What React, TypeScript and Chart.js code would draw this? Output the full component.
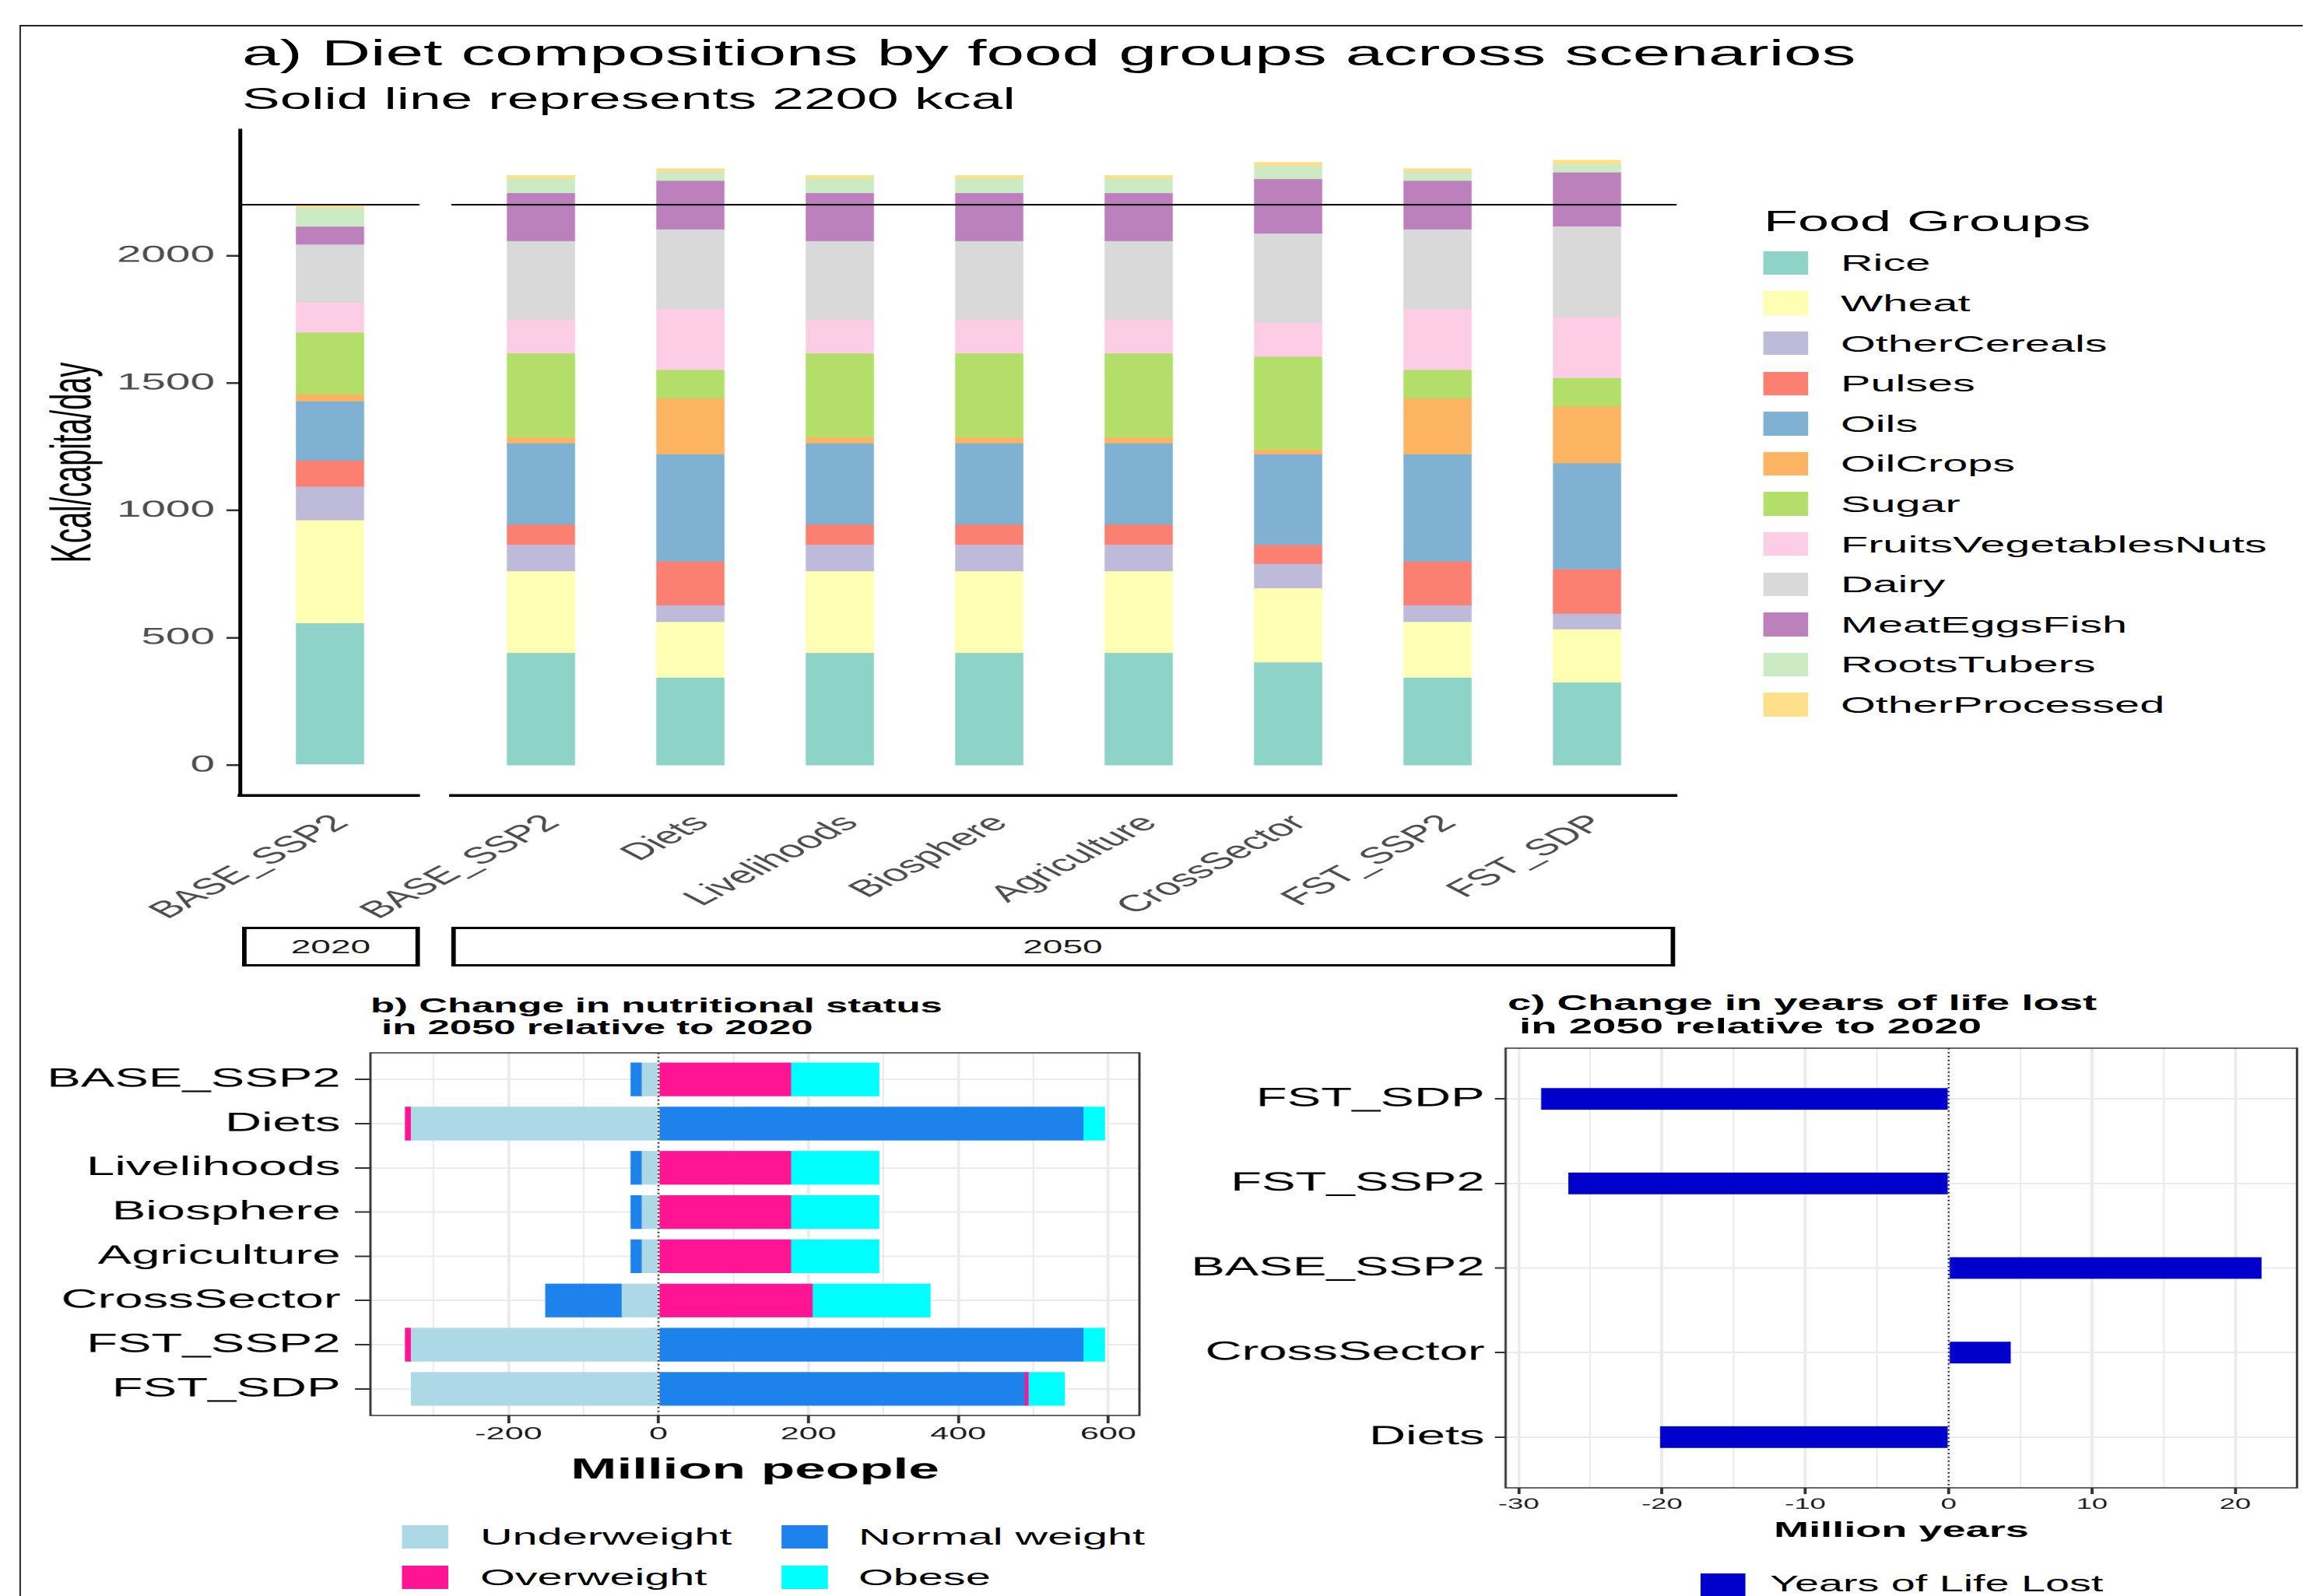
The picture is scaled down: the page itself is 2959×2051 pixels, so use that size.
import React, { useEffect, useRef } from 'react';
import { Chart, registerables } from 'chart.js';

Chart.register(...registerables);

// The reference figure is horizontally stretched; everything is laid out in
// "compressed" units and the whole sheet is stretched back by S.
const S = 1.92;
const W = 2959 / S;
const H = 2051;
const FONT = '"Liberation Sans", Arial, Helvetica, sans-serif';
const fx = (px: number) => px / S;
Chart.defaults.font.family = FONT;

// ---------------- Panel a data ----------------
const FOOD_GROUPS = ['Rice', 'Wheat', 'OtherCereals', 'Pulses', 'Oils', 'OilCrops', 'Sugar', 'FruitsVegetablesNuts', 'Dairy', 'MeatEggsFish', 'RootsTubers', 'OtherProcessed'];
const FOOD_COLORS = ['#8DD3C7', '#FFFFB3', '#BEBADA', '#FB8072', '#80B1D3', '#FDB462', '#B3DE69', '#FCCDE5', '#D9D9D9', '#BC80BD', '#CCEBC5', '#FEE08B'];

const SCENARIOS_2020 = ['BASE_SSP2'];
const SCENARIOS_2050 = ['BASE_SSP2', 'Diets', 'Livelihoods', 'Biosphere', 'Agriculture', 'CrossSector', 'FST_SSP2', 'FST_SDP'];

// kcal/capita/day per food group (same order as FOOD_GROUPS)
const KCAL_2020_BASE_SSP2 = [556, 404, 132, 102, 233, 28, 242, 118, 228, 70, 72, 9];
const KCAL_2050_BASE_SSP2 = [439, 321, 104, 79, 319, 23, 330, 132, 309, 189, 56, 14];
const KCAL_2050_DIETS = [342, 219, 65, 172, 421, 219, 112, 240, 312, 191, 35, 14];
const KCAL_2050_LIVELIHOODS = [439, 321, 104, 79, 319, 23, 330, 132, 309, 189, 56, 14];
const KCAL_2050_BIOSPHERE = [439, 321, 104, 79, 319, 23, 330, 132, 309, 189, 56, 14];
const KCAL_2050_AGRICULTURE = [439, 321, 104, 79, 319, 23, 330, 132, 309, 189, 56, 14];
const KCAL_2050_CROSSSECTOR = [402, 291, 96, 74, 356, 18, 365, 133, 351, 214, 51, 16];
const KCAL_2050_FST_SSP2 = [342, 219, 65, 172, 421, 219, 112, 240, 312, 191, 35, 14];
const KCAL_2050_FST_SDP = [323, 209, 61, 174, 417, 223, 111, 240, 356, 212, 33, 16];
const REF_KCAL = 2200;
const KCAL_TICKS = [0, 500, 1000, 1500, 2000];

const KCAL_2020 = [KCAL_2020_BASE_SSP2];
const KCAL_2050 = [KCAL_2050_BASE_SSP2, KCAL_2050_DIETS, KCAL_2050_LIVELIHOODS, KCAL_2050_BIOSPHERE, KCAL_2050_AGRICULTURE, KCAL_2050_CROSSSECTOR, KCAL_2050_FST_SSP2, KCAL_2050_FST_SDP];

// ---------------- Panel b data ----------------
const NUT_SCENARIOS = ['BASE_SSP2', 'Diets', 'Livelihoods', 'Biosphere', 'Agriculture', 'CrossSector', 'FST_SSP2', 'FST_SDP'];
const NUT_LABELS = ['Underweight', 'Normal weight', 'Overweight', 'Obese'];
const NUT_COLORS = ['#ADD8E6', '#1E82EC', '#FF1493', '#00FFFF'];
const UNDERWEIGHT = [-21.8, -329.7, -21.8, -21.8, -21.8, -48.5, -329.7, -329.7];
const NORMAL_WEIGHT = [-14.9, 566.3, -14.9, -14.9, -14.9, -102, 566.3, 488];
const OVERWEIGHT = [176.2, -7.9, 176.2, 176.2, 176.2, 205, -7.9, 5];
const OBESE = [117.8, 28.7, 117.8, 117.8, 117.8, 157.4, 28.7, 48.5];
const B_MAJOR = [-200, 0, 200, 400, 600];
const B_MINOR = [-300, -100, 100, 300, 500];

// ---------------- Panel c data ----------------
const YLL_SCENARIOS = ['FST_SDP', 'FST_SSP2', 'BASE_SSP2', 'CrossSector', 'Diets'];
const YLL_CHANGE = [-28.4, -26.5, 21.8, 4.3, -20.1];
const C_MAJOR = [-30, -20, -10, 0, 10, 20];
const C_MINOR = [-25, -15, -5, 5, 15];

// ---------------- derived limits (ggplot-like 5% expansion) ----------------
const PAD = 0.6; // discrete axis expansion
const sum = (a: number[]) => a.reduce((s, v) => s + v, 0);
const expand = (lo: number, hi: number) => [lo - 0.05 * (hi - lo), hi + 0.05 * (hi - lo)];
const [A_YMIN, A_YMAX] = expand(0, Math.max(...KCAL_2020.map(sum), ...KCAL_2050.map(sum), REF_KCAL));
const NUT_SERIES = [UNDERWEIGHT, NORMAL_WEIGHT, OVERWEIGHT, OBESE];
const NEG = NUT_SCENARIOS.map((_, i) => NUT_SERIES.reduce((s, a) => s + Math.min(0, a[i]), 0));
const POS = NUT_SCENARIOS.map((_, i) => NUT_SERIES.reduce((s, a) => s + Math.max(0, a[i]), 0));
const [B_XMIN, B_XMAX] = expand(Math.min(0, ...NEG), Math.max(0, ...POS));
const [C_XMIN, C_XMAX] = expand(Math.min(0, ...YLL_CHANGE), Math.max(0, ...YLL_CHANGE));

// ---------------- layout (reference pixels) ----------------
const A_L1 = 309, A_R1 = 539, A_L2 = 579, A_R2 = 2154, A_T = 167, A_B = 1022;
const A_CTOP = 130, A_CBOT = 1185;
const A1 = { left: 0, top: A_CTOP, width: 290, height: A_CBOT - A_CTOP };
const A2 = { left: fx(A_L2) - 100, top: A_CTOP, width: fx(A_R2) + 10 - (fx(A_L2) - 100), height: A_CBOT - A_CTOP };
const B_L = 476, B_R = 1464, B_T = 1353, B_B = 1819;
const BG = { left: 0, top: 1340, width: 775, height: 1912 - 1340 };
const C_L = 1934.5, C_R = 2951.6, C_T = 1347, C_B = 1912;
const CG = { left: 780, top: 1330, width: W - 780, height: 1984 - 1330 };

const BAR_A = (0.45 * fx(A_R2 - A_L2)) / (SCENARIOS_2050.length - 1 + 2 * PAD);
const BAR_B = (0.75 * (B_B - B_T)) / (NUT_SCENARIOS.length - 1 + 2 * PAD);
const BAR_C = (0.25 * (C_B - C_T)) / (YLL_SCENARIOS.length - 1 + 2 * PAD);
const GRID = '#EBEBEB';

const panelBorder = {
  id: 'panelBorder',
  afterDatasetsDraw(chart: any) {
    const { ctx, chartArea: a } = chart;
    ctx.save();
    ctx.strokeStyle = '#333333';
    ctx.lineWidth = 1.5;
    ctx.strokeRect(a.left, a.top, a.right - a.left, a.bottom - a.top);
    ctx.restore();
  },
};

function foodChart(canvas: HTMLCanvasElement, scenarios: string[], rows: number[][], geo: any, areaL: number, areaR: number, showY: boolean) {
  const datasets: any[] = FOOD_GROUPS.map((g, gi) => ({
    type: 'bar',
    label: g,
    data: rows.map((row, si) => ({ x: si, y: row[gi] })),
    backgroundColor: FOOD_COLORS[gi],
    borderWidth: 0,
    barThickness: BAR_A,
    order: 1,
  }));
  datasets.push({
    type: 'line',
    label: 'ref',
    data: [{ x: -PAD, y: REF_KCAL }, { x: scenarios.length - 1 + PAD, y: REF_KCAL }],
    borderColor: '#000',
    borderWidth: 2,
    pointRadius: 0,
    stack: 'ref',
    order: 0,
    clip: false,
  });
  const padLeft = showY ? 0 : fx(areaL) - geo.left;
  return new Chart(canvas, {
    type: 'bar',
    data: { datasets },
    options: {
      animation: false,
      responsive: false,
      devicePixelRatio: 2,
      layout: { padding: { left: padLeft, right: geo.left + geo.width - fx(areaR), top: A_T - geo.top, bottom: 0 } },
      plugins: { legend: { display: false }, tooltip: { enabled: false } },
      scales: {
        x: {
          type: 'linear',
          offset: false,
          min: -PAD,
          max: scenarios.length - 1 + PAD,
          stacked: true,
          grid: { display: false, offset: false },
          border: { display: true, color: '#000', width: 3.5 },
          ticks: {
            autoSkip: false, minRotation: 45, maxRotation: 45, padding: 10.5, labelOffset: 7.8,
            color: '#4D4D4D', font: { family: FONT, size: 30 },
            callback: (v: any) => scenarios[v] ?? '',
          },
          afterBuildTicks: (s: any) => { s.ticks = scenarios.map((_, i) => ({ value: i })); },
          afterFit: (s: any) => { s.height = A_CBOT - A_B; s.paddingLeft = 0; s.paddingRight = 0; },
        },
        y: showY
          ? {
              min: A_YMIN, max: A_YMAX, stacked: true, offset: false,
              grid: { display: true, drawOnChartArea: false, drawTicks: true, tickLength: 9.4, color: '#333333', lineWidth: 2.5 },
              border: { display: true, color: '#000', width: 2.6 },
              ticks: { padding: 7.8, color: '#4D4D4D', font: { family: FONT, size: 29.5 }, callback: (v: any) => String(v) },
              afterBuildTicks: (s: any) => { s.ticks = KCAL_TICKS.map((v) => ({ value: v })); },
              afterFit: (s: any) => { s.width = fx(A_L1) - geo.left; s.paddingTop = 0; s.paddingBottom = 0; },
              title: { display: true, text: 'Kcal/capita/day', color: '#000', font: { family: FONT, size: 38 }, padding: { top: fx(96) - 22.8, bottom: 0 } },
            }
          : { display: false, min: A_YMIN, max: A_YMAX, stacked: true, offset: false },
      },
    } as any,
  } as any);
}

function hbarChart(canvas: HTMLCanvasElement, cats: string[], series: number[][], colors: string[], labels: string[], geo: any, area: any, xr: number[], major: number[], minor: number[], thickness: number, t: any) {
  const datasets: any[] = series.map((arr, k) => ({
    type: 'bar',
    label: labels[k],
    data: arr.map((v, i) => ({ x: v, y: i })),
    backgroundColor: colors[k],
    borderWidth: 0,
    barThickness: thickness,
    order: 1,
  }));
  datasets.push({
    type: 'line',
    label: 'zero',
    data: [{ x: 0, y: -PAD }, { x: 0, y: cats.length - 1 + PAD }],
    borderColor: '#000',
    borderWidth: 1.1,
    borderDash: [1.5, 3.5],
    pointRadius: 0,
    stack: 'zero',
    order: 0,
  });
  const isMajor = (ctx: any) => ctx && ctx.tick && major.includes(ctx.tick.value);
  return new Chart(canvas, {
    type: 'bar',
    data: { datasets },
    options: {
      indexAxis: 'y',
      animation: false,
      responsive: false,
      devicePixelRatio: 2,
      layout: { padding: { left: 0, right: geo.left + geo.width - fx(area.r), top: area.t - geo.top, bottom: 0 } },
      plugins: { legend: { display: false }, tooltip: { enabled: false } },
      scales: {
        x: {
          type: 'linear', min: xr[0], max: xr[1], stacked: true, offset: false,
          grid: {
            offset: false,
            color: GRID,
            lineWidth: (c: any) => (isMajor(c) ? 2 : 1.1),
            tickColor: (c: any) => (isMajor(c) ? '#333333' : 'rgba(0,0,0,0)'),
            tickLength: t.xTickLen, tickWidth: 2,
          },
          border: { display: false },
          ticks: {
            autoSkip: false, minRotation: 0, maxRotation: 0, padding: t.xPad,
            color: '#1A1A1A', font: { family: FONT, size: t.xSize },
            callback: (v: any) => (major.includes(v) ? String(v) : ''),
          },
          afterBuildTicks: (s: any) => { s.ticks = [...major, ...minor].sort((a, b) => a - b).map((v) => ({ value: v })); },
          afterFit: (s: any) => { s.height = geo.top + geo.height - area.b; s.paddingLeft = 0; s.paddingRight = 0; },
          title: { display: true, text: t.title, color: '#000', font: { family: FONT, size: t.titleSize, weight: 'bold' }, padding: 0 },
        },
        y: {
          type: 'linear', min: -PAD, max: cats.length - 1 + PAD, reverse: true, stacked: true, offset: false,
          grid: { offset: false, color: GRID, lineWidth: 2, tickColor: '#333333', tickLength: t.yTickLen, tickWidth: 2 },
          border: { display: false },
          ticks: { autoSkip: false, padding: t.yPad, color: '#000', font: { family: FONT, size: 34 }, callback: (v: any) => cats[v] ?? '' },
          afterBuildTicks: (s: any) => { s.ticks = cats.map((_, i) => ({ value: i })); },
          afterFit: (s: any) => { s.width = fx(area.l) - geo.left; s.paddingTop = 0; s.paddingBottom = 0; },
        },
      },
    } as any,
    plugins: [panelBorder],
  } as any);
}

const Txt = ({ x, base, size, bold, color, children }: any) => (
  <div
    style={{
      position: 'absolute', left: x, top: base - 0.8465 * size, fontFamily: FONT, fontSize: size,
      lineHeight: `${size}px`, fontWeight: bold ? 700 : 400, color: color || '#000', whiteSpace: 'pre',
    }}
  >
    {children}
  </div>
);

const Key = ({ x, y, w, h, color }: any) => (
  <div style={{ position: 'absolute', left: x, top: y, width: w, height: h, background: color }} />
);

const Strip = ({ l, r, label }: any) => (
  <div
    style={{
      position: 'absolute', left: fx(l), top: 1191, width: fx(r - l), height: 51, border: '3px solid #000',
      boxSizing: 'border-box', display: 'flex', alignItems: 'center', justifyContent: 'center',
      fontFamily: FONT, fontSize: 24, color: '#1A1A1A',
    }}
  >
    {label}
  </div>
);

const cv = (geo: any, ref: any) => (
  <canvas
    ref={ref}
    width={Math.round(geo.width)}
    height={Math.round(geo.height)}
    style={{ position: 'absolute', left: geo.left, top: geo.top }}
  />
);

export default function App() {
  const a1 = useRef<HTMLCanvasElement>(null);
  const a2 = useRef<HTMLCanvasElement>(null);
  const b = useRef<HTMLCanvasElement>(null);
  const c = useRef<HTMLCanvasElement>(null);

  useEffect(() => {
    const charts: Chart[] = [];
    charts.push(foodChart(a1.current!, SCENARIOS_2020, KCAL_2020, A1, A_L1, A_R1, true));
    charts.push(foodChart(a2.current!, SCENARIOS_2050, KCAL_2050, A2, A_L2, A_R2, false));
    charts.push(
      hbarChart(b.current!, NUT_SCENARIOS, NUT_SERIES, NUT_COLORS, NUT_LABELS, BG,
        { l: B_L, r: B_R, t: B_T, b: B_B }, [B_XMIN, B_XMAX], B_MAJOR, B_MINOR, BAR_B,
        { xTickLen: 10, xPad: 1, xSize: 22.5, yTickLen: 10.4, yPad: 9.6, title: 'Million people', titleSize: 37 })
    );
    charts.push(
      hbarChart(c.current!, YLL_SCENARIOS, [YLL_CHANGE], ['#0000CD'], ['Years of Life Lost'], CG,
        { l: C_L, r: C_R, t: C_T, b: C_B }, [C_XMIN, C_XMAX], C_MAJOR, C_MINOR, BAR_C,
        { xTickLen: 8, xPad: 2.6, xSize: 19, yTickLen: 7.2, yPad: 6.8, title: 'Million years', titleSize: 28.2 })
    );
    return () => charts.forEach((ch) => ch.destroy());
  }, []);

  return (
    <div
      style={{
        position: 'absolute', left: 0, top: 0, width: W, height: H, overflow: 'hidden', background: '#fff',
        transform: `scaleX(${S})`, transformOrigin: '0 0',
      }}
    >
      <div
        style={{
          position: 'absolute', left: fx(24), top: 32, width: W, height: H,
          borderTop: '2px solid #222', borderLeft: '1.1px solid #222',
        }}
      />
      {cv(A1, a1)}
      {cv(A2, a2)}
      {cv(BG, b)}
      {cv(CG, c)}

      <Txt x={fx(311)} base={85} size={45.5}>a) Diet compositions by food groups across scenarios</Txt>
      <Txt x={fx(311)} base={140} size={38}>Solid line represents 2200 kcal</Txt>

      <Strip l={311} r={539} label="2020" />
      <Strip l={579} r={2152} label="2050" />

      <Txt x={fx(2266)} base={298} size={37.5}>Food Groups</Txt>
      {FOOD_GROUPS.map((g, k) => (
        <React.Fragment key={g}>
          <Key x={fx(2266)} y={338 + 51.6 * k - 15.3} w={fx(58)} h={30.6} color={FOOD_COLORS[k]} />
          <Txt x={fx(2365)} base={338 + 51.6 * k + 10.7} size={30}>{g}</Txt>
        </React.Fragment>
      ))}

      <Txt x={fx(476)} base={1301} size={26.5} bold>b) Change in nutritional status</Txt>
      <Txt x={fx(476)} base={1329.6} size={26.5} bold>{' in 2050 relative to 2020'}</Txt>
      {NUT_LABELS.map((l, k) => {
        const col = k % 2;
        const row = Math.floor(k / 2);
        const kx = col === 0 ? 517 : 1005;
        const tx = col === 0 ? 617 : 1103;
        const ky = row === 0 ? 1960 : 2012;
        return (
          <React.Fragment key={l}>
            <Key x={fx(kx)} y={ky} w={fx(59)} h={30} color={NUT_COLORS[k]} />
            <Txt x={fx(tx)} base={ky + 15 + 10.7} size={30}>{l}</Txt>
          </React.Fragment>
        );
      })}

      <Txt x={fx(1937)} base={1297.8} size={28.4} bold>c) Change in years of life lost</Txt>
      <Txt x={fx(1937)} base={1328} size={28.4} bold>{' in 2050 relative to 2020'}</Txt>
      <Key x={fx(2184)} y={2022} w={fx(58.5)} h={32} color="#0000CD" />
      <Txt x={fx(2274)} base={2046} size={29}>Years of Life Lost</Txt>
    </div>
  );
}
